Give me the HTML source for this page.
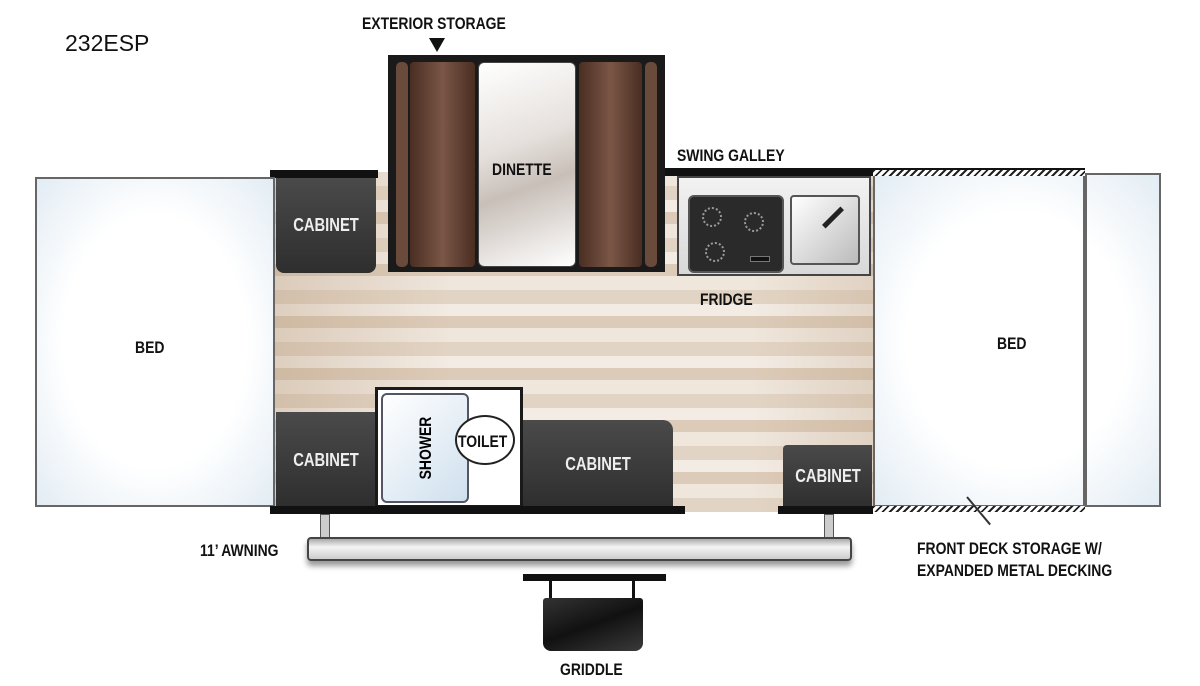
<!DOCTYPE html>
<html><head><style>
body{margin:0;width:1200px;height:686px;background:#fff;position:relative;overflow:hidden;font-family:"Liberation Sans",sans-serif}
div{position:absolute;box-sizing:border-box}
.l{font-weight:bold;font-size:17px;color:#111;transform:scaleX(.82);transform-origin:left top;white-space:nowrap}
.cab{background:linear-gradient(180deg,#4a4a4a,#2e2e2e);border-radius:0 0 8px 8px;color:#eee;font-weight:bold;font-size:18px;display:flex;align-items:center;justify-content:center}
.cab span{transform:scaleX(.82)}
.bed{background:radial-gradient(ellipse at center,#fff 55%,#e2ecf4 100%);border:2px solid #666}
</style></head><body>
<div style="left:65px;top:30px;font-size:23px;color:#111">232ESP</div>

<!-- floor -->
<div style="left:270px;top:172px;width:603px;height:340px;background:linear-gradient(90deg,rgba(180,150,120,.35),rgba(255,255,255,0) 30%,rgba(255,255,255,0) 80%,rgba(180,150,120,.25)),repeating-linear-gradient(180deg,#efe6dc 0 14px,#e2d4c4 14px 28px,#f3ece4 28px 40px,#dccbb8 40px 52px);"></div>
<div style="left:270px;top:170px;width:108px;height:8px;background:#111"></div>
<div style="left:665px;top:168px;width:420px;height:8px;background:#111"></div>

<!-- beds -->
<div class="bed" style="left:35px;top:177px;width:240px;height:330px"></div>
<div class="l" style="left:135px;top:338px">BED</div>
<div class="bed" style="left:873px;top:173px;width:288px;height:334px"></div>
<div style="left:1083px;top:173px;width:4px;height:334px;background:#666"></div>
<div style="left:873px;top:170px;width:212px;height:6px;background:repeating-linear-gradient(135deg,#222 0 2px,#fff 2px 5px)"></div>
<div style="left:873px;top:506px;width:212px;height:6px;background:repeating-linear-gradient(135deg,#222 0 2px,#fff 2px 5px)"></div>
<div class="l" style="left:997px;top:334px">BED</div>

<!-- dinette -->
<div style="left:388px;top:55px;width:277px;height:217px;background:#1a1a1a"></div>
<div style="left:396px;top:62px;width:12px;height:205px;background:#6a4a3a;border-radius:5px"></div>
<div style="left:410px;top:62px;width:65px;height:205px;background:linear-gradient(90deg,#4a2e22,#7a5646,#4a2e22);border-radius:4px"></div>
<div style="left:478px;top:62px;width:98px;height:205px;background:linear-gradient(160deg,#fff,#e5e0dc 40%,#c8bfb8 60%,#fff);border-radius:6px;border:1px solid #444"></div>
<div style="left:579px;top:62px;width:63px;height:205px;background:linear-gradient(90deg,#4a2e22,#7a5646,#4a2e22);border-radius:4px"></div>
<div style="left:645px;top:62px;width:12px;height:205px;background:#6a4a3a;border-radius:5px"></div>
<div class="l" style="left:492px;top:160px">DINETTE</div>
<div class="l" style="left:362px;top:14px">EXTERIOR STORAGE</div>
<div style="left:429px;top:38px;width:0;height:0;border-left:8px solid transparent;border-right:8px solid transparent;border-top:14px solid #111"></div>

<!-- galley -->
<div style="left:677px;top:176px;width:194px;height:100px;background:linear-gradient(180deg,#f2f2f2,#d8d8d8);border:2px solid #444"></div>
<div style="left:688px;top:195px;width:96px;height:78px;background:#2a2a2a;border-radius:6px;border:2px solid #555"></div>
<div style="left:702px;top:207px;width:20px;height:20px;border-radius:50%;border:2px dotted #999"></div>
<div style="left:744px;top:212px;width:20px;height:20px;border-radius:50%;border:2px dotted #999"></div>
<div style="left:705px;top:242px;width:20px;height:20px;border-radius:50%;border:2px dotted #999"></div>
<div style="left:750px;top:256px;width:20px;height:6px;background:#111;border:1px solid #777"></div>
<div style="left:790px;top:195px;width:70px;height:70px;background:linear-gradient(135deg,#fff,#bbb);border:2px solid #555;border-radius:4px"></div>
<div style="left:820px;top:215px;width:26px;height:5px;background:#222;transform:rotate(-45deg)"></div>
<div class="l" style="left:677px;top:146px">SWING GALLEY</div>
<div class="l" style="left:700px;top:290px">FRIDGE</div>

<!-- cabinets -->
<div class="cab" style="left:276px;top:178px;width:100px;height:95px"><span>CABINET</span></div>
<div class="cab" style="left:276px;top:412px;width:99px;height:96px;border-radius:0"><span>CABINET</span></div>
<div style="left:375px;top:387px;width:148px;height:121px;background:#fff;border:3px solid #1a1a1a"></div>
<div style="left:381px;top:393px;width:88px;height:110px;background:linear-gradient(135deg,#fff,#cfe0ee);border:2px solid #556;border-radius:6px"></div>
<div style="left:426px;top:438px;font-weight:bold;font-size:17px;transform:rotate(-90deg) scaleX(.82);transform-origin:center;width:80px;margin-left:-40px;text-align:center">SHOWER</div>
<div style="left:455px;top:415px;width:60px;height:50px;border-radius:50%;background:#fff;border:2px solid #222"></div>
<div class="l" style="left:458px;top:432px">TOILET</div>
<div class="cab" style="left:523px;top:420px;width:150px;height:88px;border-radius:0 10px 0 0"><span>CABINET</span></div>
<div class="cab" style="left:783px;top:445px;width:89px;height:63px;border-radius:4px 0 0 0"><span>CABINET</span></div>

<!-- bottom wall -->
<div style="left:270px;top:506px;width:415px;height:8px;background:#111"></div>
<div style="left:778px;top:506px;width:95px;height:8px;background:#111"></div>

<!-- awning -->
<div style="left:320px;top:514px;width:10px;height:24px;background:#ccc;border:1px solid #555"></div>
<div style="left:824px;top:514px;width:10px;height:24px;background:#ccc;border:1px solid #555"></div>
<div style="left:307px;top:537px;width:545px;height:24px;background:linear-gradient(180deg,#aaa,#f4f4f4 40%,#ccc);border:2px solid #444;border-radius:4px;box-shadow:0 5px 6px #999"></div>
<div class="l" style="left:200px;top:541px">11’ AWNING</div>

<!-- griddle -->
<div style="left:523px;top:574px;width:143px;height:7px;background:#111"></div>
<div style="left:549px;top:580px;width:3px;height:20px;background:#111"></div>
<div style="left:632px;top:580px;width:3px;height:20px;background:#111"></div>
<div style="left:543px;top:598px;width:100px;height:53px;background:linear-gradient(160deg,#333,#111 50%,#3a3a3a);border-radius:3px 3px 8px 8px"></div>
<div class="l" style="left:560px;top:660px">GRIDDLE</div>

<div style="left:966px;top:497px;width:2px;height:36px;background:#333;transform:rotate(-40deg);transform-origin:top"></div>
<div class="l" style="left:917px;top:538px;line-height:22px">FRONT DECK STORAGE W/<br>EXPANDED METAL DECKING</div>
</body></html>
